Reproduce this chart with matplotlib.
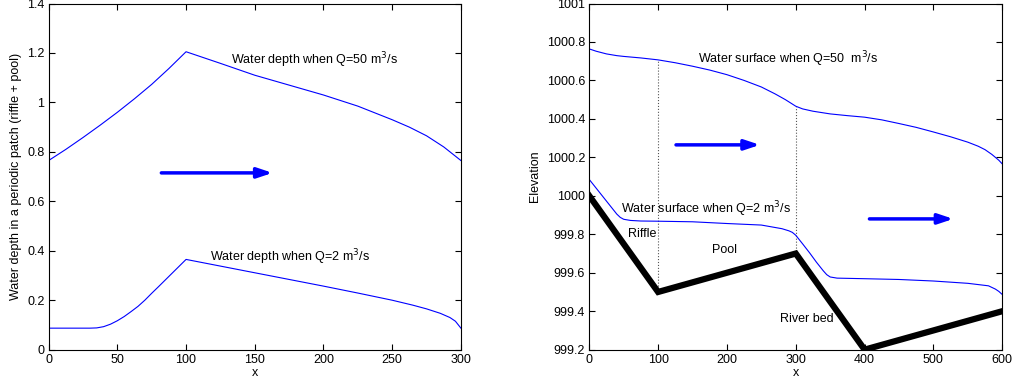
import matplotlib.pyplot as plt
from matplotlib.ticker import FuncFormatter

plt.rcParams['font.family'] = ['Liberation Sans', 'DejaVu Sans']

# left panel: water depth in one riffle + pool patch
x_q50 = [0, 12.5, 25, 37.5, 50, 62.5, 75, 87.5, 100, 125, 150, 175, 200, 225,
         250, 262.5, 275, 287.5, 300]
d_q50 = [0.765, 0.81, 0.858, 0.908, 0.96, 1.015, 1.073, 1.137, 1.205, 1.158,
         1.11, 1.07, 1.03, 0.985, 0.93, 0.9, 0.865, 0.82, 0.765]
x_q2 = [0, 30, 35, 40, 45, 50, 55, 60, 65, 70, 75, 80, 90, 100, 125, 150, 175,
        200, 225, 250, 265, 275, 285, 292, 296, 300]
d_q2 = [0.087, 0.087, 0.088, 0.093, 0.103, 0.117, 0.134, 0.154, 0.175, 0.2,
        0.228, 0.255, 0.31, 0.365, 0.338, 0.311, 0.284, 0.257, 0.229, 0.2,
        0.18, 0.165, 0.147, 0.13, 0.115, 0.087]

# right panel: elevations along the channel
x_ws50 = [0, 10, 25, 40, 50, 75, 100, 125, 150, 175, 200, 225, 250, 270, 285,
          300, 310, 325, 350, 375, 400, 425, 450, 475, 500, 525, 550, 565, 575,
          585, 595, 600]
z_ws50 = [1000.764, 1000.752, 1000.738, 1000.729, 1000.725, 1000.717,
          1000.707, 1000.692, 1000.674, 1000.654, 1000.63, 1000.6, 1000.566,
          1000.53, 1000.5, 1000.466, 1000.452, 1000.44, 1000.426, 1000.417,
          1000.409, 1000.395, 1000.376, 1000.356, 1000.332, 1000.307,
          1000.279, 1000.258, 1000.24, 1000.215, 1000.185, 1000.166]
x_ws2 = [0, 10, 20, 30, 40, 45, 50, 60, 75, 100, 150, 200, 250, 280, 290, 295,
         300, 310, 320, 330, 340, 345, 350, 360, 400, 450, 500, 550, 580, 590,
         595, 600]
z_ws2 = [1000.085, 1000.04, 999.995, 999.95, 999.905, 999.888, 999.878,
         999.872, 999.869, 999.868, 999.865, 999.856, 999.848, 999.829,
         999.818, 999.81, 999.795, 999.75, 999.704, 999.655, 999.61, 999.59,
         999.578, 999.572, 999.569, 999.565, 999.557, 999.545, 999.532,
         999.515, 999.503, 999.487]
x_bed = [0, 100, 300, 400, 600]
z_bed = [1000.0, 999.5, 999.7, 999.2, 999.4]

fig = plt.figure(figsize=(10.13, 3.92), dpi=100)
ax1 = fig.add_axes([0.048, 0.108, 0.407, 0.883])
ax2 = fig.add_axes([0.5817, 0.108, 0.4077, 0.883])

blue = '#0000ff'
fs = 9
arrow = dict(arrowstyle='-|>,head_length=0.9,head_width=0.3', color=blue, lw=2.5)

# ---- left
ax1.plot(x_q50, d_q50, color=blue, lw=0.8)
ax1.plot(x_q2, d_q2, color=blue, lw=0.8)
ax1.annotate('', xy=(165, 0.715), xytext=(80, 0.715), arrowprops=arrow)
ax1.text(133, 1.169, 'Water depth when Q=50 m$^3$/s', fontsize=fs, va='center')
ax1.text(117.5, 0.372, 'Water depth when Q=2 m$^3$/s', fontsize=fs, va='center')
ax1.set_xlim(0, 300)
ax1.set_ylim(0, 1.4)
ax1.set_xticks([0, 50, 100, 150, 200, 250, 300])
ax1.set_yticks([0, 0.2, 0.4, 0.6, 0.8, 1.0, 1.2, 1.4])
ax1.set_xlabel('x', fontsize=fs, labelpad=1)
ax1.set_ylabel('Water depth in a periodic patch (riffle + pool)', fontsize=fs, labelpad=4)

# ---- right
ax2.plot([100, 100], [999.5, 1000.707], color='#555555', ls=':', lw=0.8)
ax2.plot([300, 300], [999.7, 1000.466], color='#555555', ls=':', lw=0.8)
ax2.plot(x_ws50, z_ws50, color=blue, lw=0.8)
ax2.plot(x_ws2, z_ws2, color=blue, lw=0.8)
ax2.plot(x_bed, z_bed, color='k', lw=4.5, solid_joinstyle='miter')
ax2.annotate('', xy=(252, 1000.265), xytext=(122, 1000.265), arrowprops=arrow)
ax2.annotate('', xy=(533, 999.88), xytext=(403, 999.88), arrowprops=arrow)
ax2.text(158, 1000.71, 'Water surface when Q=50  m$^3$/s', fontsize=fs, va='center')
ax2.text(46, 999.93, 'Water surface when Q=2 m$^3$/s', fontsize=fs, va='center')
ax2.text(56, 999.80, 'Riffle', fontsize=fs, va='center')
ax2.text(179, 999.716, 'Pool', fontsize=fs, va='center')
ax2.text(277, 999.36, 'River bed', fontsize=fs, va='center')
ax2.set_xlim(0, 600)
ax2.set_ylim(999.2, 1001)
ax2.set_xticks([0, 100, 200, 300, 400, 500, 600])
ax2.set_yticks([999.2, 999.4, 999.6, 999.8, 1000, 1000.2, 1000.4, 1000.6, 1000.8, 1001])
ax2.set_xlabel('x', fontsize=fs, labelpad=1)
ax2.set_ylabel('Elevation', fontsize=fs, labelpad=4)

fmt = FuncFormatter(lambda v, p: ('%.1f' % v).rstrip('0').rstrip('.'))
for ax in (ax1, ax2):
    ax.yaxis.set_major_formatter(fmt)
    ax.tick_params(direction='in', top=True, right=True, length=4,
                   labelsize=fs, pad=3, width=0.8)
    for s in ax.spines.values():
        s.set_linewidth(0.8)

fig.savefig('out.png', dpi=100)
